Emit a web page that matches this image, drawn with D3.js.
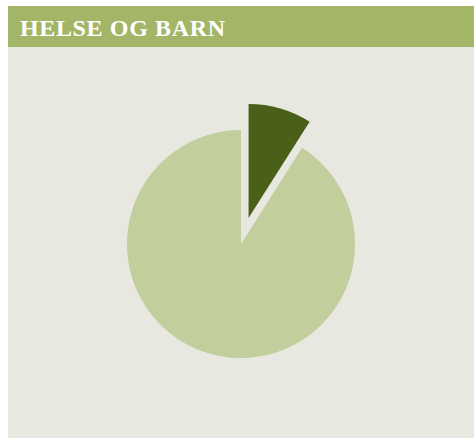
<!DOCTYPE html>
<html><head><meta charset="utf-8">
<script src="https://d3js.org/d3.v7.min.js"></script>
<style>html,body{margin:0;padding:0;background:#fff;}svg{display:block;}</style>
</head><body>
<script>
const title = "HELSE OG BARN";
const categories = ["Andel A", "Andel B"];
const values = [9, 91];
const colors = ["#4a6019", "#c2ce9c"];

const W = 474, H = 438;
const svg = d3.select("body").append("svg").attr("width", W).attr("height", H);
svg.append("rect").attr("x", 8).attr("y", 47).attr("width", W - 8).attr("height", H - 47).attr("fill", "#e8e8e0");
svg.append("rect").attr("x", 8).attr("y", 6).attr("width", W - 8).attr("height", 41).attr("fill", "#a3b566");
svg.append("text").attr("x", 20).attr("y", 36).text(title)
  .attr("fill", "#fff").attr("font-family", "'Liberation Serif', serif").attr("font-weight", "bold").attr("font-size", 24)
  .attr("textLength", 205).attr("lengthAdjust", "spacing");

const cx = 241, cy = 244, r = 114, explode = 27;
const pie = d3.pie().sort(null).value(d => d);
const arc = d3.arc().innerRadius(0).outerRadius(r);
const g = svg.append("g").attr("transform", `translate(${cx},${cy})`);
g.selectAll("path").data(pie(values)).join("path")
  .attr("d", arc)
  .attr("fill", (d, i) => colors[i])
  .attr("transform", (d, i) => {
    if (i !== 0) return null;
    const a = (d.startAngle + d.endAngle) / 2;
    return `translate(${explode * Math.sin(a)},${-explode * Math.cos(a)})`;
  });
</script>
</body></html>
